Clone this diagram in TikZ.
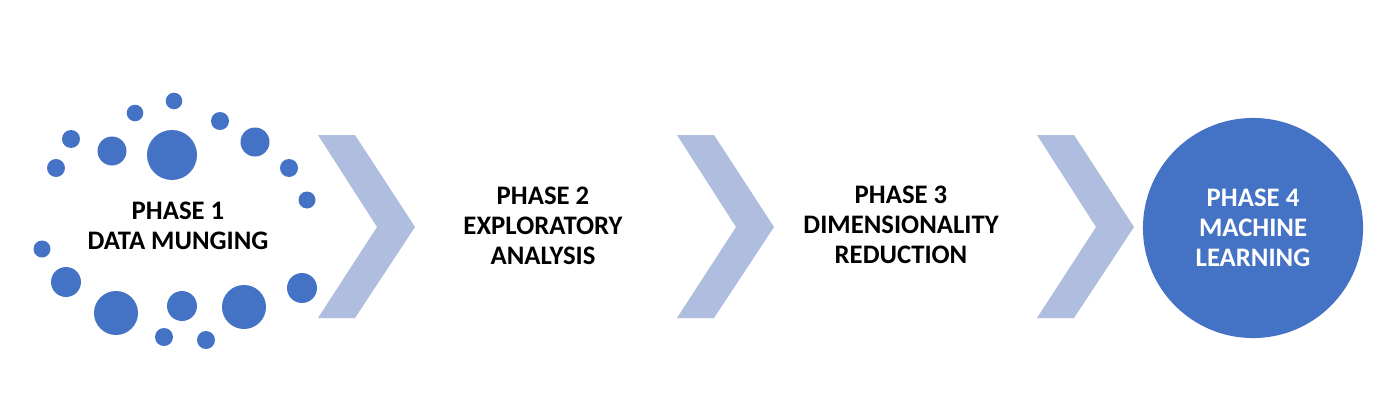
\documentclass[tikz,border=0pt]{standalone}
\usepackage{fontspec}
\setmainfont{Carlito}
\definecolor{phaseblue}{RGB}{68,114,196}
\definecolor{chevronblue}{RGB}{175,189,222}
\tikzset{
  phase/.style={align=center,inner sep=0pt,font=\bfseries\fontsize{7.6}{8.5}\selectfont},
  bubble/.style={fill=phaseblue},
  chevron/.style={fill=chevronblue}
}
\begin{document}
\begin{tikzpicture}[x=0.01cm,y=-0.01cm]
\useasboundingbox[fill=white] (0,0) rectangle (1400,400);
\foreach \x/\y/\r in {174/101/8.3, 135/113/8.3, 220/121/9, 71/139/9, 112/151/14.5,
  172/155/25, 255/142/14.5, 56/168/9, 289/168/9, 307/200/8.5, 42/249/8.5,
  66/282/15, 116/313/22, 182/306/15, 244/307/22, 302/288/15, 164/337/9, 206/340/9}
  \fill[bubble] (\x,\y) circle (\r);
\foreach \s in {318,677,1037}
  \fill[chevron] (\s,135) -- ++(37,0) -- ++(60,92) -- ++(-60,91) -- ++(-37,0) -- ++(59,-91) -- cycle;
\node[phase] (p1) at (178,226) {PHASE 1\\DATA MUNGING};
\node[phase] (p2) at (543,226) {PHASE 2\\EXPLORATORY\\ANALYSIS};
\node[phase] (p3) at (901,225) {PHASE 3\\DIMENSIONALITY\\REDUCTION};
\node[phase,circle,fill=phaseblue,text=white,minimum size=2.2cm] (p4) at (1253,228) {PHASE 4\\MACHINE\\LEARNING};
\end{tikzpicture}
\end{document}
